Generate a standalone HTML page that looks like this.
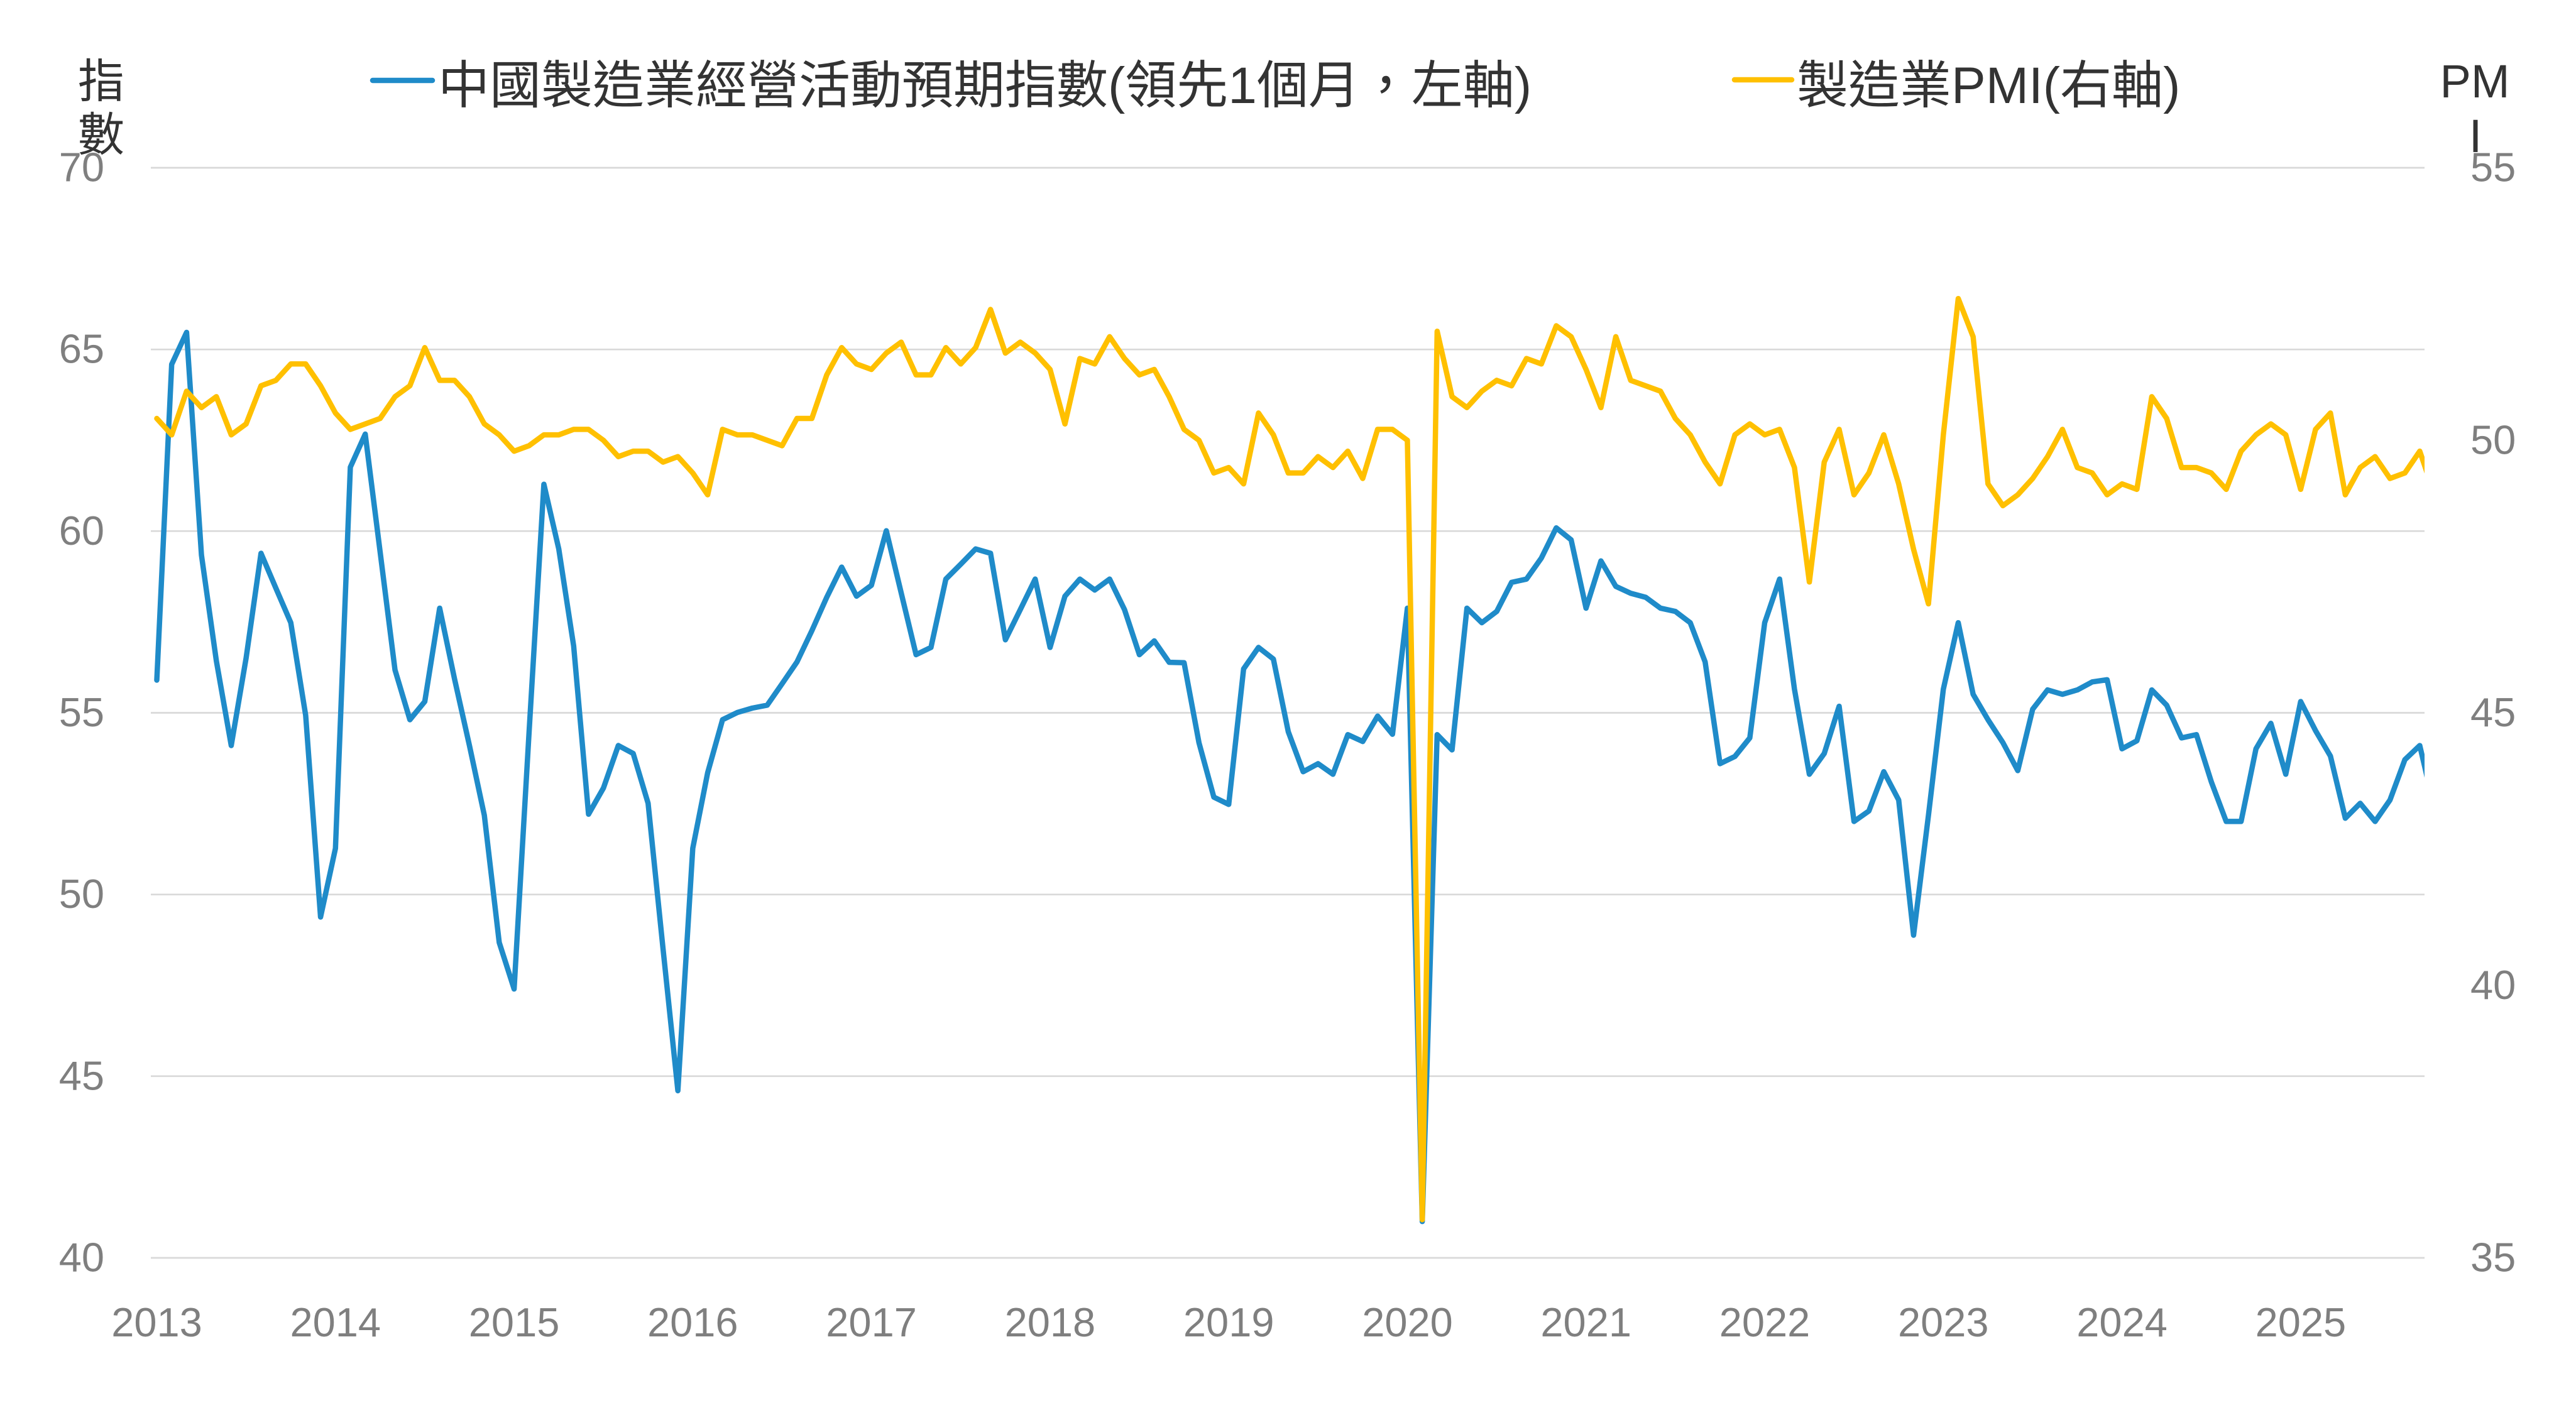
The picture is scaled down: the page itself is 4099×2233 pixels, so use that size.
<!DOCTYPE html>
<html>
<head>
<meta charset="utf-8">
<style>
  html, body { margin: 0; padding: 0; background: #ffffff; }
  svg { display: block; }
  .tick { font-family: "Liberation Sans", "Noto Sans CJK TC", sans-serif; font-size: 65px; fill: #7f7f7f; }
  .ttl { font-family: "Liberation Sans", "Noto Sans CJK TC", sans-serif; font-size: 74px; fill: #333333; }
  .leg { font-family: "Liberation Sans", "Noto Sans CJK TC", sans-serif; font-size: 82px; fill: #333333; }
</style>
</head>
<body>
<svg width="4099" height="2233" viewBox="0 0 4099 2233" xmlns="http://www.w3.org/2000/svg">
  <rect x="0" y="0" width="4099" height="2233" fill="#ffffff"/>
  <defs>
    <clipPath id="plot">
      <rect x="240" y="0" width="3618" height="2233"/>
    </clipPath>
  </defs>

  <!-- gridlines -->
  <g stroke="#d9d9d9" stroke-width="2.7">
    <line x1="240" y1="267" x2="3858" y2="267"/>
    <line x1="240" y1="556.2" x2="3858" y2="556.2"/>
    <line x1="240" y1="845.3" x2="3858" y2="845.3"/>
    <line x1="240" y1="1134.5" x2="3858" y2="1134.5"/>
    <line x1="240" y1="1423.7" x2="3858" y2="1423.7"/>
    <line x1="240" y1="1712.8" x2="3858" y2="1712.8"/>
    <line x1="240" y1="2002" x2="3858" y2="2002"/>
  </g>

  <!-- left axis labels -->
  <g class="tick" text-anchor="end">
    <text x="166" y="288.5">70</text>
    <text x="166" y="577.7">65</text>
    <text x="166" y="866.8">60</text>
    <text x="166" y="1156">55</text>
    <text x="166" y="1445.2">50</text>
    <text x="166" y="1734.3">45</text>
    <text x="166" y="2023.5">40</text>
  </g>

  <!-- right axis labels -->
  <g class="tick" text-anchor="start">
    <text x="3931" y="288.5">55</text>
    <text x="3931" y="722.3">50</text>
    <text x="3931" y="1156">45</text>
    <text x="3931" y="1589.8">40</text>
    <text x="3931" y="2023.5">35</text>
  </g>

  <!-- x axis labels -->
  <g class="tick" text-anchor="middle">
    <text x="249.5" y="2127">2013</text>
    <text x="533.8" y="2127">2014</text>
    <text x="818.1" y="2127">2015</text>
    <text x="1102.3" y="2127">2016</text>
    <text x="1386.6" y="2127">2017</text>
    <text x="1670.9" y="2127">2018</text>
    <text x="1955.2" y="2127">2019</text>
    <text x="2239.5" y="2127">2020</text>
    <text x="2523.7" y="2127">2021</text>
    <text x="2808" y="2127">2022</text>
    <text x="3092.3" y="2127">2023</text>
    <text x="3376.6" y="2127">2024</text>
    <text x="3660.9" y="2127">2025</text>
  </g>

  <!-- axis titles -->
  <g class="ttl" text-anchor="middle">
    <text x="161" y="155">指</text>
    <text x="161" y="240">數</text>
    <text x="3938" y="155">PM</text>
    <text x="3939" y="242">I</text>
  </g>

  <!-- legend -->
  <line x1="593" y1="128" x2="688" y2="128" stroke="#1f8bc9" stroke-width="8.5" stroke-linecap="round"/>
  <text class="leg" x="697" y="164">中國製造業經營活動預期指數(領先1個月，左軸)</text>
  <line x1="2760" y1="127" x2="2851" y2="127" stroke="#ffc000" stroke-width="8.5" stroke-linecap="round"/>
  <text class="leg" x="2859" y="164">製造業PMI(右軸)</text>

  <!-- series -->
  <g clip-path="url(#plot)">
    <!-- blue: left axis, y = 4315.33 - 57.833*v -->
    <g transform="translate(249.5,4315.33) scale(23.69,-57.833)">
      <polyline fill="none" stroke="#1f8bc9" stroke-width="8.5" stroke-linejoin="round" stroke-linecap="round" vector-effect="non-scaling-stroke"
        points="0,55.90 1,64.59 2,65.47 3,59.34 4,56.43 5,54.10 6,56.51 7,59.39 8,58.43 9,57.48 10,54.93 11,49.38
12,51.27 13,61.76 14,62.67 15,59.43 16,56.18 17,54.81 18,55.31 19,57.88 20,55.93 21,54.10 22,52.18 23,48.68
24,47.40 25,54.43 26,61.29 27,59.51 28,56.84 29,52.21 30,52.93 31,54.10 32,53.88 33,52.51 34,48.52 35,44.60
36,51.27 37,53.35 38,54.81 39,55.01 40,55.13 41,55.21 42,55.80 43,56.40 44,57.26 45,58.18 46,59.01 47,58.21
48,58.51 49,60.01 50,58.30 51,56.60 52,56.80 53,58.68 54,59.09 55,59.51 56,59.39 57,57.01 58,57.84 59,58.68
60,56.80 61,58.21 62,58.68 63,58.38 64,58.68 65,57.84 66,56.60 67,56.98 68,56.39 69,56.38 70,54.18 71,52.68
72,52.48 73,56.21 74,56.80 75,56.48 76,54.48 77,53.38 78,53.60 79,53.31 80,54.40 81,54.21 82,54.91 83,54.41
84,57.88 85,41.00 86,54.40 87,53.98 88,57.88 89,57.48 90,57.79 91,58.59 92,58.68 93,59.26 94,60.09 95,59.76
96,57.88 97,59.18 98,58.48 99,58.29 100,58.18 101,57.88 102,57.79 103,57.48 104,56.40 105,53.60 106,53.80 107,54.31
108,57.48 109,58.68 110,55.65 111,53.31 112,53.88 113,55.18 114,52.01 115,52.30 116,53.38 117,52.60 118,48.88 119,52.18
120,55.65 121,57.48 122,55.51 123,54.81 124,54.18 125,53.41 126,55.10 127,55.63 128,55.51 129,55.63 130,55.85 131,55.91
132,54.01 133,54.23 134,55.63 135,55.21 136,54.31 137,54.40 138,53.10 139,52.01 140,52.01 141,54.01 142,54.71 143,53.31
144,55.31 145,54.51 146,53.81 147,52.10 148,52.51 149,52.01 150,52.60 151,53.71 152,54.10 153,52.35"/>
    </g>
    <!-- yellow: right axis, y = 5038.25 - 86.75*v -->
    <g transform="translate(249.5,5038.25) scale(23.69,-86.75)">
      <polyline fill="none" stroke="#ffc000" stroke-width="8.5" stroke-linejoin="round" stroke-linecap="round" vector-effect="non-scaling-stroke"
        points="0,50.4 1,50.1 2,50.9 3,50.6 4,50.8 5,50.1 6,50.3 7,51.0 8,51.1 9,51.4 10,51.4 11,51.0
12,50.5 13,50.2 14,50.3 15,50.4 16,50.8 17,51.0 18,51.7 19,51.1 20,51.1 21,50.8 22,50.3 23,50.1
24,49.8 25,49.9 26,50.1 27,50.1 28,50.2 29,50.2 30,50.0 31,49.7 32,49.8 33,49.8 34,49.6 35,49.7
36,49.4 37,49.0 38,50.2 39,50.1 40,50.1 41,50.0 42,49.9 43,50.4 44,50.4 45,51.2 46,51.7 47,51.4
48,51.3 49,51.6 50,51.8 51,51.2 52,51.2 53,51.7 54,51.4 55,51.7 56,52.4 57,51.6 58,51.8 59,51.6
60,51.3 61,50.3 62,51.5 63,51.4 64,51.9 65,51.5 66,51.2 67,51.3 68,50.8 69,50.2 70,50.0 71,49.4
72,49.5 73,49.2 74,50.5 75,50.1 76,49.4 77,49.4 78,49.7 79,49.5 80,49.8 81,49.3 82,50.2 83,50.2
84,50.0 85,35.7 86,52.0 87,50.8 88,50.6 89,50.9 90,51.1 91,51.0 92,51.5 93,51.4 94,52.1 95,51.9
96,51.3 97,50.6 98,51.9 99,51.1 100,51.0 101,50.9 102,50.4 103,50.1 104,49.6 105,49.2 106,50.1 107,50.3
108,50.1 109,50.2 110,49.5 111,47.4 112,49.6 113,50.2 114,49.0 115,49.4 116,50.1 117,49.2 118,48.0 119,47.0
120,50.1 121,52.6 122,51.9 123,49.2 124,48.8 125,49.0 126,49.3 127,49.7 128,50.2 129,49.5 130,49.4 131,49.0
132,49.2 133,49.1 134,50.8 135,50.4 136,49.5 137,49.5 138,49.4 139,49.1 140,49.8 141,50.1 142,50.3 143,50.1
144,49.1 145,50.2 146,50.5 147,49.0 148,49.5 149,49.7 150,49.3 151,49.4 152,49.8 153,49.0"/>
    </g>
  </g>
</svg>
</body>
</html>
